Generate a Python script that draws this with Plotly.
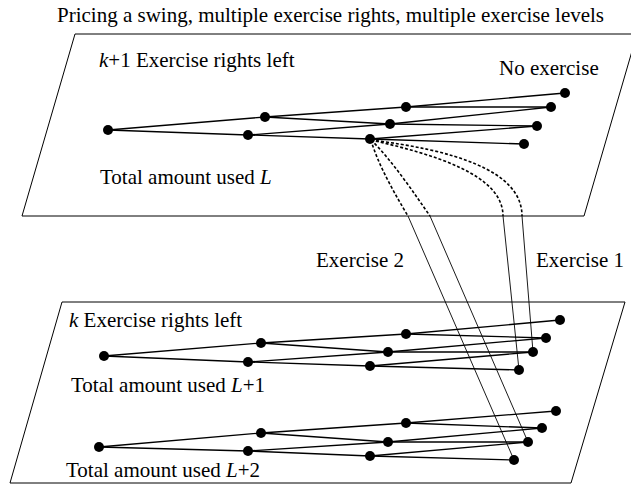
import plotly.graph_objects as go

# ---- data (pixel-space diagram coordinates) ----
title_text = "Pricing a swing, multiple exercise rights, multiple exercise levels"

# planes (parallelograms): TL, TR, BR, BL
plane_top_x = [75, 637, 584, 22, 75]
plane_top_y = [34, 34, 216, 216, 34]
plane_bot_x = [62, 625, 571, 10, 62]
plane_bot_y = [302, 302, 483, 483, 302]

# tree nodes: A0, B1, B2, C1, C2, C3, D1, D2, D3, D4
tree_top_x = [108, 265, 248, 406, 390, 370, 565, 551, 537, 524]
tree_top_y = [130, 117, 135, 107, 124, 139, 93, 107, 126, 144]
tree_l1_x = [104, 261, 248, 406, 388, 370, 560, 546, 533, 519]
tree_l1_y = [356, 343, 362, 334, 352, 366, 320, 338, 352, 370]
tree_l2_x = [99, 261, 248, 406, 388, 370, 556, 542, 528, 514]
tree_l2_y = [447, 433, 451, 423, 442, 456, 411, 428, 442, 460]

# tree edges (node index pairs)
edges = [(0, 1), (0, 2), (1, 3), (1, 4), (2, 4), (2, 5),
         (3, 6), (3, 7), (4, 7), (4, 8), (5, 8), (5, 9)]

# exercise transitions: dashed curve start/controls/end, then solid segment to target
curve_start = (371, 140)
curve_c1 = [(378, 165), (392, 160), (432, 154), (452, 150)]
curve_c2 = [(396, 196), (416, 196), (503, 174), (522, 170)]
curve_end_x = [408, 430, 503, 522]
curve_end_y = [216, 216, 216, 216]
target_x = [514, 528, 519, 533]
target_y = [460, 442, 370, 352]

labels = [
    ("<i>k</i>+1 Exercise rights left", 97, 60, "left"),
    ("No exercise", 497, 68, "left"),
    ("Total amount used <i>L</i>", 98, 177, "left"),
    ("Exercise 2", 314, 260, "left"),
    ("Exercise 1", 534, 260, "left"),
    ("<i>k</i> Exercise rights left", 67, 320, "left"),
    ("Total amount used <i>L</i>+1", 69, 385, "left"),
    ("Total amount used <i>L</i>+2", 64, 470, "left"),
]

FONT = "Liberation Serif, Times New Roman, serif"
FS = 21

fig = go.Figure()

# planes
for px, py in [(plane_top_x, plane_top_y), (plane_bot_x, plane_bot_y)]:
    fig.add_trace(go.Scatter(x=px, y=py, mode="lines",
                             line=dict(color="black", width=1), hoverinfo="skip"))

# exercise solid lines
for i in range(4):
    fig.add_trace(go.Scatter(x=[curve_end_x[i], target_x[i]], y=[curve_end_y[i], target_y[i]],
                             mode="lines", line=dict(color="black", width=0.9), hoverinfo="skip"))

# trees
for tx, ty in [(tree_top_x, tree_top_y), (tree_l1_x, tree_l1_y), (tree_l2_x, tree_l2_y)]:
    ex, ey = [], []
    for a, b in edges:
        ex += [tx[a], tx[b], None]
        ey += [ty[a], ty[b], None]
    fig.add_trace(go.Scatter(x=ex, y=ey, mode="lines",
                             line=dict(color="black", width=1.3), hoverinfo="skip"))
    fig.add_trace(go.Scatter(x=tx, y=ty, mode="markers",
                             marker=dict(color="black", size=10), hoverinfo="skip"))

# dashed curves
for i in range(4):
    path = (f"M {curve_start[0]},{curve_start[1]} "
            f"C {curve_c1[i][0]},{curve_c1[i][1]} {curve_c2[i][0]},{curve_c2[i][1]} "
            f"{curve_end_x[i]},{curve_end_y[i]}")
    fig.add_shape(type="path", path=path, xref="x", yref="y",
                  line=dict(color="black", width=1.6, dash="3px,2px"))

fig.add_annotation(text=title_text, x=55, y=15, xref="x", yref="y",
                   showarrow=False, xanchor="left", yanchor="middle",
                   font=dict(family=FONT, size=FS, color="black"))
for t, x, y, anc in labels:
    fig.add_annotation(text=t, x=x, y=y, xref="x", yref="y", showarrow=False,
                       xanchor=anc, yanchor="middle",
                       font=dict(family=FONT, size=FS, color="black"))

fig.update_layout(width=631, height=485, autosize=False,
                  margin=dict(l=0, r=0, t=0, b=0),
                  paper_bgcolor="white", plot_bgcolor="white",
                  showlegend=False,
                  xaxis=dict(range=[0, 631], visible=False, fixedrange=True),
                  yaxis=dict(range=[485, 0], visible=False, fixedrange=True))

fig.write_html("out.html", config={"displayModeBar": False},
               post_script="document.body.style.margin='0';document.body.style.overflow='hidden';")
